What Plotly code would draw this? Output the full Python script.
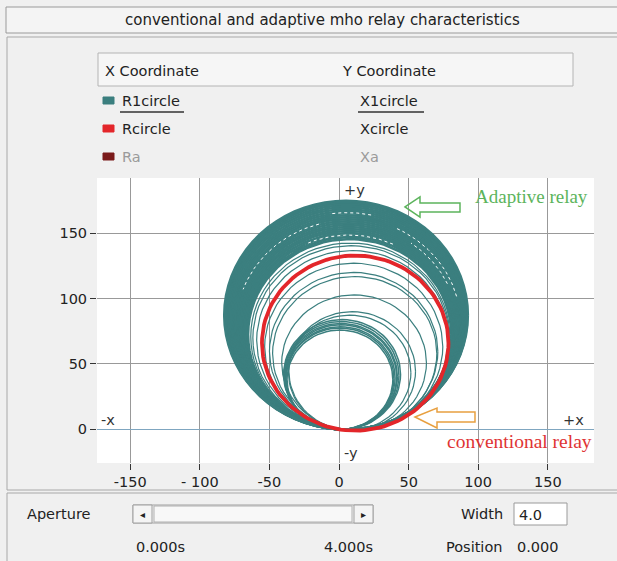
import numpy as np
import plotly.graph_objects as go

W, H = 617, 561

# ---------------- data ----------------
conv_reach = [134.0]
conv_angle = [80.0]

band_reach = [146.0, 147.5, 149.0, 150.5, 152.0, 153.5, 155.0, 156.5, 158.0, 159.5,
              161.0, 162.5, 164.0, 165.5, 167.0, 168.5, 170.0, 171.5, 173.0, 174.0, 175.0]
band_angle = [84.0, 84.1, 84.3, 84.4, 84.6, 84.7, 84.9, 85.0, 85.2, 85.3,
              85.5, 85.6, 85.8, 85.9, 86.0, 86.2, 86.3, 86.4, 86.5, 86.6, 86.7]

# white sampling gaps that show through the dense band (reach, angle, arc start, arc end in deg)
gap_reach = [166.0, 160.0, 162.0, 149.0, 157.0]
gap_angle = [86.0, 85.5, 85.6, 84.4, 85.1]
gap_from = [78.0, 105.0, 15.0, 65.0, 25.0]
gap_to = [98.0, 160.0, 65.0, 115.0, 55.0]

thin_reach = [143.0, 141.0, 137.5, 128.0, 121.0, 118.0, 104.0, 91.0, 88.0]
thin_angle = [83.5, 83.0, 82.0, 80.5, 80.0, 79.0, 78.0, 78.0, 80.0]

inner_reach = [84.0, 82.5, 81.0, 80.0, 78.5, 77.5, 76.0]
inner_angle = [87.0, 87.5, 88.0, 88.0, 88.5, 89.0, 89.0]

x_ticks = [-150, -100, -50, 0, 50, 100, 150]
x_tick_text = ["-150", "- 100", "-50", "0", "50", "100", "150"]
y_ticks = [0, 50, 100, 150]
y_tick_text = ["0", "50", "100", "150"]

TEAL = "#3b7f7f"
RED = "#e3262a"
FONT = "DejaVu Sans"
FS = 14.5


def mho_set(reaches, angles, n=73, t0=None, t1=None):
    xs, ys = [], []
    for i, (z, a) in enumerate(zip(reaches, angles)):
        if t0 is None:
            t = np.linspace(0, 2 * np.pi, n)
        else:
            t = np.linspace(np.radians(t0[i]), np.radians(t1[i]), n)
        phi = np.radians(a)
        r = z / 2.0
        cx, cy = r * np.cos(phi), r * np.sin(phi)
        xs += list(cx + r * np.cos(t)) + [None]
        ys += list(cy + r * np.sin(t)) + [None]
    return xs, ys


def px(x):
    return x / W


def py(y):
    return 1 - y / H


fig = go.Figure()
for (rr, aa, wdt) in [(band_reach, band_angle, 2.6), (thin_reach, thin_angle, 1.2),
                      (inner_reach, inner_angle, 1.5)]:
    xs, ys = mho_set(rr, aa)
    fig.add_trace(go.Scatter(x=xs, y=ys, mode="lines", line=dict(color=TEAL, width=wdt),
                             showlegend=False, hoverinfo="skip"))
xs, ys = mho_set(gap_reach, gap_angle, n=40, t0=gap_from, t1=gap_to)
fig.add_trace(go.Scatter(x=xs, y=ys, mode="lines", line=dict(color="#ffffff", width=1, dash="dot"),
                         showlegend=False, hoverinfo="skip"))
xs, ys = mho_set(conv_reach, conv_angle, n=121)
fig.add_trace(go.Scatter(x=xs, y=ys, mode="lines", line=dict(color=RED, width=3.8),
                         showlegend=False, hoverinfo="skip"))

shapes = []
ann = []


def rect(x0, y0, x1, y1, fill="rgba(0,0,0,0)", line="#a0a0a0", lw=1):
    shapes.append(dict(type="rect", xref="paper", yref="paper", x0=px(x0), x1=px(x1),
                       y0=py(y0), y1=py(y1), fillcolor=fill, line=dict(color=line, width=lw),
                       layer="below"))


def hline(x0, x1, y, color="#a0a0a0", lw=1):
    shapes.append(dict(type="line", xref="paper", yref="paper", x0=px(x0), x1=px(x1),
                       y0=py(y), y1=py(y), line=dict(color=color, width=lw)))


def vline(x, y0, y1, color="#a0a0a0", lw=1):
    shapes.append(dict(type="line", xref="paper", yref="paper", x0=px(x), x1=px(x),
                       y0=py(y0), y1=py(y1), line=dict(color=color, width=lw)))


def text(x, y, s, size=FS, color="#222222", xa="left", family=FONT):
    ann.append(dict(xref="paper", yref="paper", x=px(x), y=py(y), text=s, showarrow=False,
                    xanchor=xa, yanchor="middle", font=dict(family=family, size=size, color=color)))


def arrow(pts, color):
    d = "M " + " L ".join(f"{px(a):.5f},{py(b):.5f}" for a, b in pts) + " Z"
    shapes.append(dict(type="path", xref="paper", yref="paper", path=d,
                       line=dict(color=color, width=1.5), fillcolor="rgba(255,255,255,0)"))


# window frame
rect(6, 7, 620, 33, fill="#f4f4f4", line="#9a9a9a")
text(322, 20, "conventional and adaptive mho relay characteristics", size=15, xa="center")
rect(7, 37, 620, 490, fill="rgba(0,0,0,0)", line="#a8a8a8")
hline(7, 617, 493, color="#a8a8a8")
vline(7, 493, 561, color="#a8a8a8")

# legend table
rect(98, 53, 573, 86, fill="#f6f6f6", line="#b4b4b4")
text(103, 71, "X Coordinate")
text(340, 71, "Y Coordinate")
rows = [("R1circle", "X1circle", TEAL, "#222222", 101),
        ("Rcircle", "Xcircle", RED, "#222222", 129),
        ("Ra", "Xa", "#7a1a1a", "#9a9a9a", 157)]
for a, b, c, tc, yy in rows:
    rect(103, yy - 4, 114, yy + 3, fill=c, line=c)
    text(120, yy, a, color=tc)
    text(358, yy, b, color=tc)
hline(120, 184, 112, color="#333333", lw=1.5)
hline(358, 424, 112, color="#333333", lw=1.5)

# plot labels
text(342, 190, "+y", color="#333333")
text(342, 453, "-y", color="#333333")
text(99, 420, "-x", color="#333333")
text(561, 420, "+x", color="#333333")
text(531, 197, "Adaptive relay", size=19, color="#5cb45c", xa="center", family="Liberation Serif")
text(519, 441, "conventional relay", size=19.5, color="#e03434", xa="center", family="Liberation Serif")
arrow([(405, 207), (420, 197), (420, 203), (460, 203), (460, 212), (420, 212), (420, 217)], "#5cb45c")
arrow([(415, 417), (437, 408), (437, 412), (475, 412), (475, 422), (437, 422), (437, 428)], "#e8a040")

# bottom panel
text(25, 514, "Aperture")
rect(133, 505, 373, 523, fill="#f0f0f0", line="#a0a0a0")
rect(133, 505, 152, 523, fill="#f4f4f4", line="#a0a0a0")
rect(354, 505, 373, 523, fill="#f4f4f4", line="#a0a0a0")
rect(154, 506, 352, 522, fill="#f8f8f8", line="#b0b0b0")
text(142.5, 514, "◂", size=10, xa="center")
text(363.5, 514, "▸", size=10, xa="center")
text(459, 514, "Width")
rect(514, 503, 567, 525, fill="#ffffff", line="#9a9a9a")
text(517, 515, "4.0")
text(134, 547, "0.000s")
text(322, 547, "4.000s")
text(444, 547, "Position")
text(515, 547, "0.000")

fig.update_layout(
    width=W, height=H, margin=dict(l=0, r=0, t=0, b=0),
    paper_bgcolor="#f0f0f0", plot_bgcolor="#ffffff",
    shapes=shapes, annotations=ann, showlegend=False,
    font=dict(family=FONT, size=FS, color="#222222"),
    xaxis=dict(domain=[px(97), px(594)], range=[-173.9, 183.2], tickvals=x_ticks,
               ticktext=x_tick_text,
               showgrid=True, gridcolor="#999999", gridwidth=1,
               zeroline=True, zerolinecolor="#999999", zerolinewidth=1,
               ticks="outside", ticklen=6, tickcolor="#333333", showline=False,
               tickfont=dict(family=FONT, size=FS, color="#222222"), fixedrange=True),
    yaxis=dict(domain=[py(463), py(178)], range=[-25.8, 192.3], tickvals=y_ticks,
               ticktext=y_tick_text,
               showgrid=True, gridcolor="#999999", gridwidth=1,
               zeroline=True, zerolinecolor="#7fa6c0", zerolinewidth=1,
               ticks="outside", ticklen=6, tickcolor="#333333", showline=False,
               tickfont=dict(family=FONT, size=FS, color="#222222"), fixedrange=True),
)

fig.write_html("out.html", config={"displayModeBar": False},
               post_script="document.body.style.margin='0';document.body.style.overflow='hidden';")
